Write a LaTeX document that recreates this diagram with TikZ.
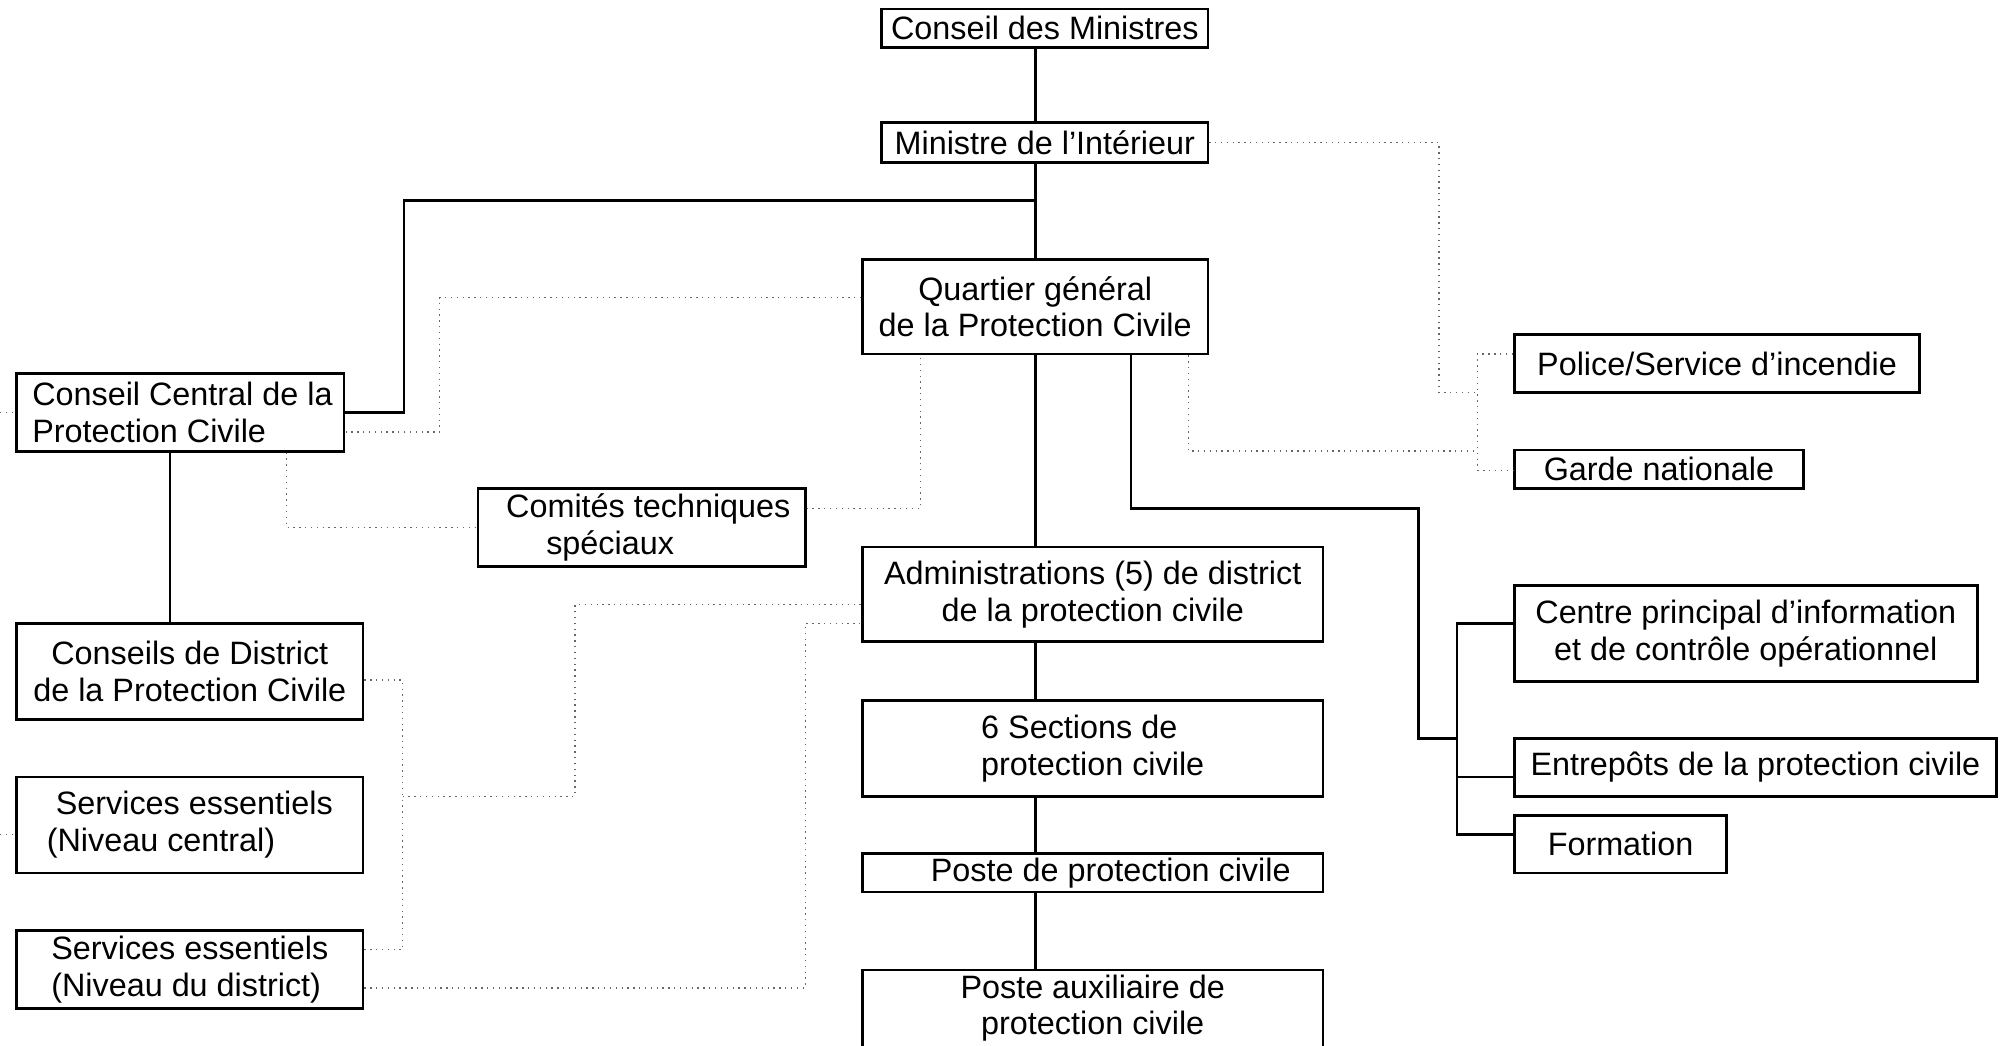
\documentclass[tikz,border=0pt]{standalone}
\usepackage{fontspec}
\setmainfont{Liberation Sans}
\usetikzlibrary{positioning}

\tikzset{
  unit/.style={draw, line width=0.6pt, inner sep=0pt, align=center,
    font=\fontsize{7.2}{8.2}\selectfont},
  link/.style={line width=0.6pt},
  aux/.style={densely dotted, black!60, line width=0.3pt}
}

\begin{document}
\begin{tikzpicture}[x=0.01cm, y=-0.01cm]
  \useasboundingbox (0,0) rectangle (1568,818);

  % centre column
  \node[unit, minimum width=2.55cm, minimum height=0.30cm] at (817.5,22)    (cm)    {Conseil des Ministres};
  \node[unit, minimum width=2.55cm, minimum height=0.31cm] at (817.5,111.5) (mi)    {Ministre de l'Intérieur};
  \node[unit, minimum width=2.70cm, minimum height=0.74cm] at (810,240)     (qg)    {Quartier général\\ de la Protection Civile};
  \node[unit, minimum width=3.60cm, minimum height=0.74cm] at (855,465)     (adm)   {Administrations (5) de district\\de la protection civile};
  \node[unit, minimum width=3.60cm, minimum height=0.75cm, align=left] at (855,585.5) (sect) {6 Sections de\\protection civile};
  \node[unit, minimum width=3.60cm, minimum height=0.30cm] at (855,683)     (poste) {\hspace{8pt}Poste de protection civile};
  \node[unit, anchor=north, align=none] at (855,758) (paux)
    {\parbox[c][0.74cm][t]{3.6cm}{\centering\vspace*{1pt}Poste auxiliaire de\\ protection civile}};

  % left column
  \node[unit, minimum width=2.56cm, minimum height=0.61cm, align=left] at (141,322.5) (ccpc) {\hspace{1pt}Conseil Central de la\\\hspace{1pt}Protection Civile};
  \node[unit, minimum width=2.56cm, minimum height=0.61cm] at (502,412.5)   (ctech) {\hspace*{3pt}Comités techniques\\spéciaux\hspace*{14pt}};
  \node[unit, minimum width=2.71cm, minimum height=0.75cm] at (148.5,525.5) (cdpc)  {Conseils de District\\de la Protection Civile};
  \node[unit, minimum width=2.71cm, minimum height=0.75cm, align=left] at (148.5,645.5) (secent) {\hspace{2pt}Services essentiels\\(Niveau central)};
  \node[unit, minimum width=2.71cm, minimum height=0.61cm, align=left] at (148.5,758.5) (sedist) {Services essentiels\\(Niveau du district)};

  % right column
  \node[unit, minimum width=3.17cm, minimum height=0.45cm] at (1343.5,284.5) (police) {Police/Service d'incendie};
  \node[unit, minimum width=2.26cm, minimum height=0.30cm] at (1298,367)     (garde)  {Garde nationale};
  \node[unit, minimum width=3.62cm, minimum height=0.75cm] at (1366,495.5)   (centre) {Centre principal d'information\\ et de contrôle opérationnel};
  \node[unit, minimum width=3.77cm, minimum height=0.45cm] at (1373.5,600.5) (entre)  {Entrepôts de la protection civile};
  \node[unit, minimum width=1.66cm, minimum height=0.45cm] at (1268,660.5)   (form)   {Formation};

  \coordinate (jn) at (810,157);
  \coordinate (tr) at (1140,578);

  % hierarchy
  \draw[link] (cm.south -| qg.north) -- (mi.north -| qg.north);
  \draw[link] (mi.south -| qg.north) -- (qg.north);
  \draw[link] (ccpc.east) -- ++(46,0) |- (jn);
  \draw[link] (qg.south) -- (qg.south |- adm.north);
  \draw[link] (adm.south -| qg.south) -- (sect.north -| qg.south);
  \draw[link] (sect.south -| qg.south) -- (poste.north -| qg.south);
  \draw[link] (poste.south -| qg.south) -- (paux.north -| qg.south);
  \draw[link] (ccpc.south -| 133,0) -- (cdpc.north -| 133,0);
  \draw[link] (qg.south -| 885,0) |- (1110,398) |- (tr);
  \draw[link] (centre.west |- 0,488) -| (1140,653) -- (form.west |- 0,653);
  \draw[link] (tr |- 0,608) -- (entre.west |- 0,608);

  % dotted links
  \draw[aux] (mi.east) -| (1126,307) -- (1156,307);
  \draw[aux] (police.west |- 0,277) -| (1156,368) -- (garde.west |- 0,368);
  \draw[aux] (qg.south -| 930,0) |- (1156,353);
  \draw[aux] (qg.west |- 0,233) -| (344,338) -- (ccpc.east |- 0,338);
  \draw[aux] (ccpc.south -| 224,0) |- (ctech.west);
  \draw[aux] (ctech.east |- 0,398) -| (qg.south -| 720,0);
  \draw[aux] (cdpc.east |- 0,532) -| (315,743) -- (sedist.east |- 0,743);
  \draw[aux] (315,623) -| (450,473) -- (adm.west |- 0,473);
  \draw[aux] (sedist.east |- 0,773) -| (630,488) -- (adm.west |- 0,488);
  \draw[aux] (0,323) -- (ccpc.west |- 0,323);
  \draw[aux] (0,653) -- (secent.west |- 0,653);
\end{tikzpicture}
\end{document}
